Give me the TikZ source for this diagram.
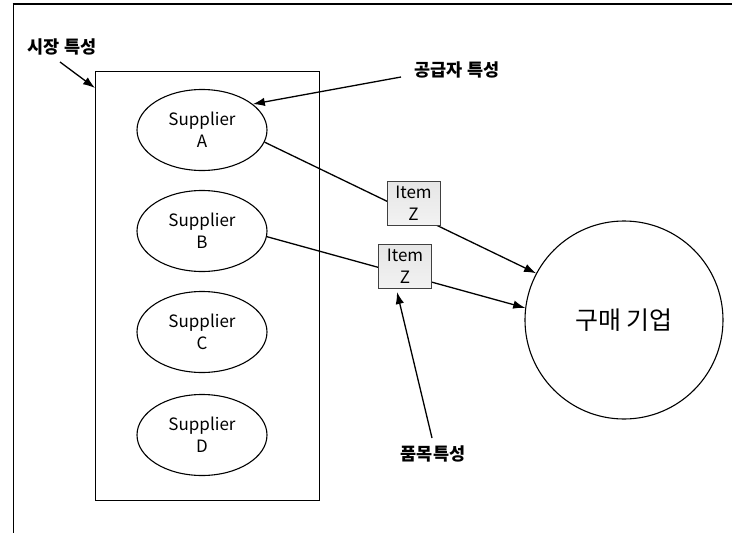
\documentclass[tikz,border=0pt]{standalone}
\usepackage{fontspec}
\setmainfont{Noto Sans CJK KR}
\usetikzlibrary{arrows.meta,shapes.geometric}
\begin{document}
\begin{tikzpicture}[x=1pt,y=-1pt,
  sup/.style={ellipse, draw, line width=1.1pt, minimum width=130pt, minimum height=81pt,
    inner sep=0pt, align=center, font=\fontsize{17}{22}\selectfont},
  itembox/.style={draw=black!75, line width=0.8pt, top color=black!10, bottom color=black!5,
    minimum width=53pt, minimum height=44pt, inner sep=0pt, align=center,
    font=\fontsize{17}{22}\selectfont},
  arr/.style={line width=1.3pt, -{Latex[length=12pt,width=8.5pt]}},
  lbl/.style={font=\bfseries\fontsize{17.5}{19}\selectfont, inner sep=0pt}
]
\useasboundingbox (0,0) rectangle (732,533);
\draw[line width=1pt] (13,533) -- (13,4);
\draw[line width=2pt] (12.5,4) -- (732,4);

\node (mkt) [draw, line width=0.8pt, minimum width=224pt, minimum height=429pt, inner sep=0pt] at (207,285.5) {};

\node (supA) [sup] at (202,130) {Supplier\\A};
\node (supB) [sup] at (202,231) {Supplier\\B};
\node (supC) [sup] at (202,332) {Supplier\\C};
\node (supD) [sup] at (202,435) {Supplier\\D};

\node (buy) [circle, draw, line width=1.1pt, minimum size=198pt, inner sep=0pt,
  font=\fontsize{25}{30}\selectfont] at (624,320) {구매 기업};

\node (mlbl) [lbl] at (62,47) {시장 특성};
\node (slbl) [lbl] at (457,70) {공급자 특성};
\node (plbl) [lbl] at (433,454) {품목특성};

\coordinate (mtail) at (60,62);
\coordinate (mtip) at (95,88);
\coordinate (stail) at (401,77);
\coordinate (ptail) at (432,438);
\coordinate (ptip) at (397,292);

\draw[arr] (mtail) -- (mtip);
\draw[arr] (stail) -- (supA.27);
\draw[arr] (supA.-11) -- (buy.152);
\draw[arr] (supB.-5) -- (buy.173);

\node (itemA) [itembox] at (413.5,203) {Item\\Z};
\node (itemB) [itembox] at (405,266.5) {Item\\Z};

\draw[arr] (ptail) -- (ptip);
\end{tikzpicture}
\end{document}
